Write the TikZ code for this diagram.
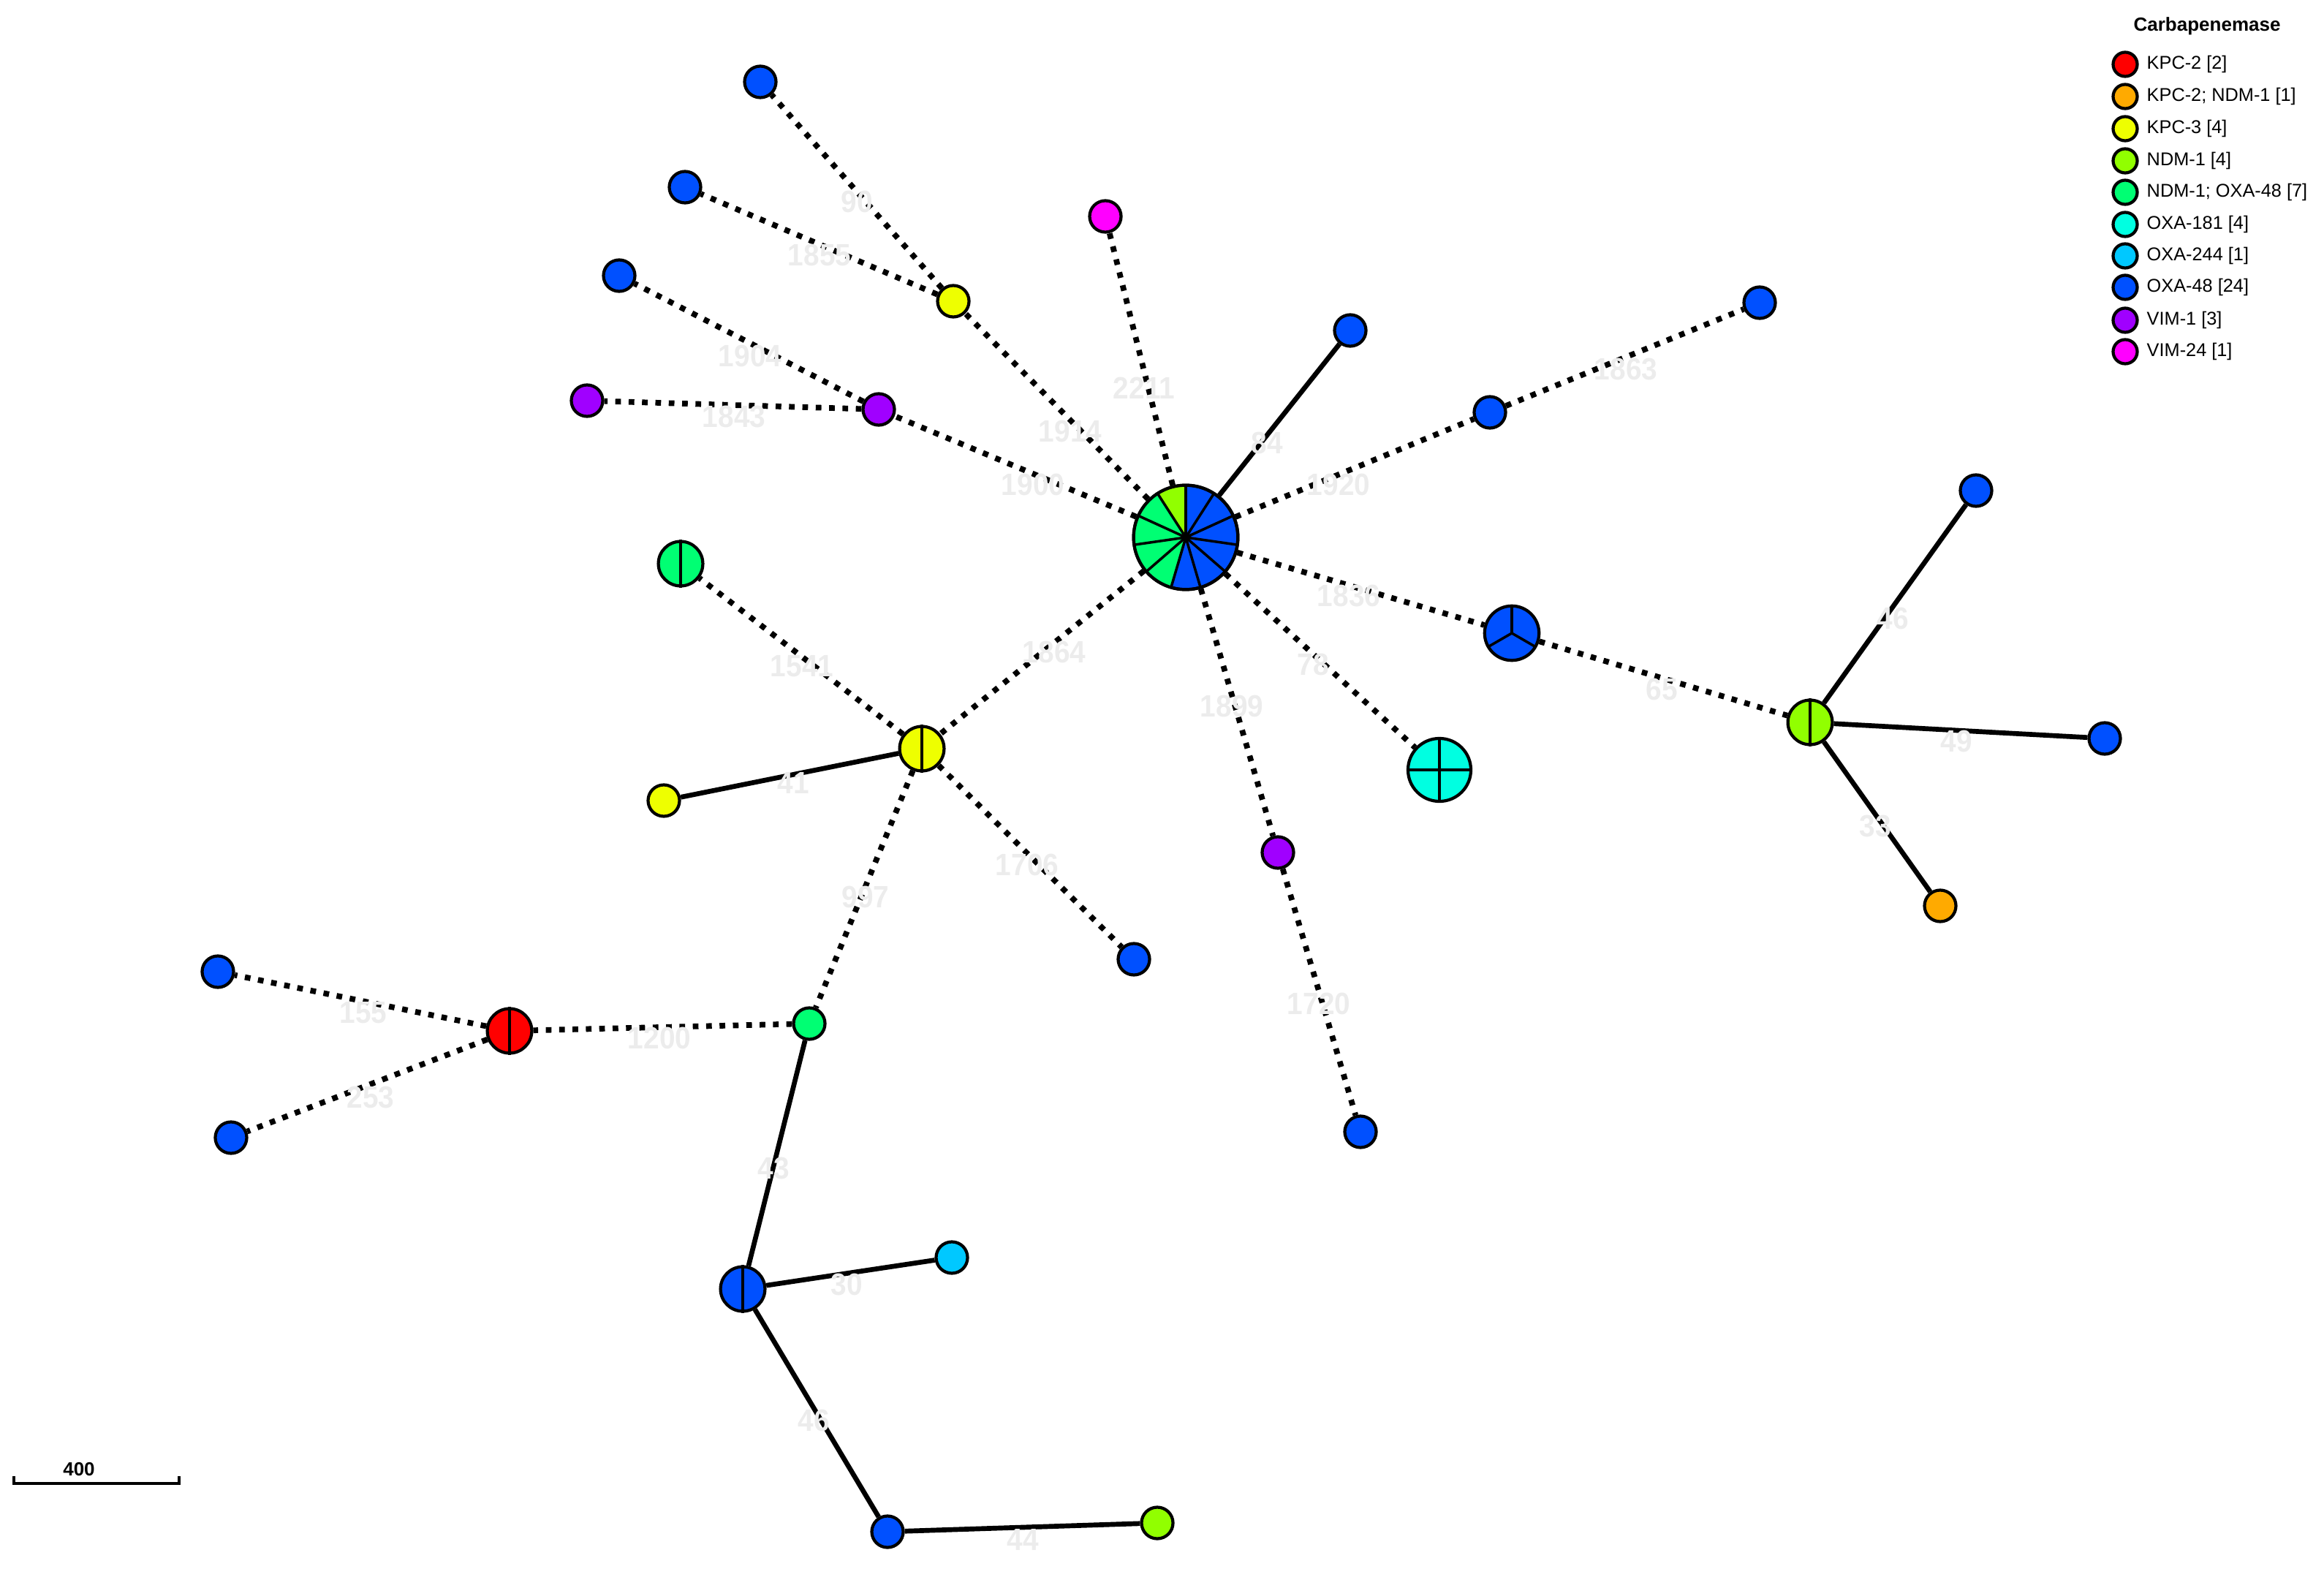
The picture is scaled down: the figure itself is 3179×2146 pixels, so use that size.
\documentclass[tikz,border=0pt]{standalone}
\usepackage{fontspec}
\setmainfont{Liberation Sans}
\newfontfamily\lblfont{Liberation Sans}[FakeStretch=0.92]
\pgfdeclarelayer{background}
\pgfsetlayers{background,main}
\definecolor{cKPCii}{RGB}{255,0,0}
\definecolor{cKPCNDM}{RGB}{255,170,0}
\definecolor{cKPCiii}{RGB}{238,255,0}
\definecolor{cNDM}{RGB}{145,255,0}
\definecolor{cNDMOXA}{RGB}{0,255,115}
\definecolor{cOXAclxxxi}{RGB}{0,255,225}
\definecolor{cOXAccxliv}{RGB}{0,200,255}
\definecolor{cOXAxlviii}{RGB}{0,80,255}
\definecolor{cVIMi}{RGB}{160,0,255}
\definecolor{cVIMxxiv}{RGB}{255,0,255}
\definecolor{lblgray}{RGB}{236,236,236}
\begin{document}
\begin{tikzpicture}[x=0.01cm,y=0.01cm,
 iso/.style={circle,draw=black,line width=1.2pt,inner sep=0pt,minimum size=0.43cm},
 isoii/.style={iso,minimum size=0.608cm},
 isoiii/.style={iso,minimum size=0.744cm},
 isoiv/.style={iso,minimum size=0.86cm},
 isoxi/.style={iso,minimum size=1.426cm},
 solidedge/.style={line width=1.9pt},
 dotedge/.style={line width=2.2pt,dash pattern=on 2.2pt off 3pt},
 elabel/.style={font=\lblfont\bfseries\fontsize{12}{12}\selectfont,text=lblgray,inner sep=0pt},
 divider/.style={line width=1pt},
 legdot/.style={circle,draw=black,line width=1.2pt,inner sep=0pt,minimum size=0.33cm},
 legtext/.style={anchor=west,font=\fontsize{7.2}{8}\selectfont,inner sep=0pt}]

\useasboundingbox (0,0) rectangle (3179,-2146);

% ---------- nodes ----------
\node[isoxi,fill=cOXAxlviii] (C) at (1622,-735) {};
\node[iso,fill=cOXAxlviii] (a84) at (1847,-452) {};
\node[iso,fill=cOXAxlviii] (a1920) at (2038,-564) {};
\node[iso,fill=cOXAxlviii] (a1863) at (2407,-414) {};
\node[isoiii,fill=cOXAxlviii] (p3) at (2068,-866) {};
\node[isoii,fill=cNDM] (p2L) at (2476,-988) {};
\node[iso,fill=cOXAxlviii] (bR1) at (2703,-671) {};
\node[iso,fill=cOXAxlviii] (bR2) at (2879,-1010) {};
\node[iso,fill=cKPCNDM] (oR) at (2654,-1239) {};
\node[isoiv,fill=cOXAclxxxi] (c4) at (1969,-1053) {};
\node[iso,fill=cVIMi] (vS) at (1748,-1166) {};
\node[iso,fill=cOXAxlviii] (b1720) at (1861,-1548) {};
\node[iso,fill=cVIMxxiv] (mg) at (1512,-296) {};
\node[iso,fill=cKPCiii] (yT) at (1304,-412) {};
\node[iso,fill=cOXAxlviii] (b90) at (1040,-112) {};
\node[iso,fill=cOXAxlviii] (b1855) at (937,-256) {};
\node[iso,fill=cVIMi] (vM) at (1202,-560) {};
\node[iso,fill=cOXAxlviii] (b1904) at (847,-377) {};
\node[iso,fill=cVIMi] (vL) at (803,-548) {};
\node[isoii,fill=cKPCiii] (y2) at (1261,-1024) {};
\node[isoii,fill=cNDMOXA] (g2) at (931,-771) {};
\node[iso,fill=cKPCiii] (yS) at (908,-1095) {};
\node[iso,fill=cOXAxlviii] (b1706) at (1551,-1312) {};
\node[iso,fill=cNDMOXA] (gS) at (1107,-1400) {};
\node[isoii,fill=cKPCii] (r2) at (697,-1410) {};
\node[iso,fill=cOXAxlviii] (b155) at (298,-1329) {};
\node[iso,fill=cOXAxlviii] (b253) at (316,-1556) {};
\node[isoii,fill=cOXAxlviii] (bb2) at (1016,-1763) {};
\node[iso,fill=cOXAccxliv] (ox244) at (1302,-1720) {};
\node[iso,fill=cOXAxlviii] (b599) at (1214,-2095) {};
\node[iso,fill=cNDM] (lS) at (1583,-2083) {};

% ---------- pie slices ----------
\foreach \i in {6,...,9}{
  \pgfmathsetmacro\a{90-\i*360/11}
  \pgfmathsetmacro\b{90-(\i+1)*360/11}
  \fill[cNDMOXA] (C.center) -- ++(\a:71.3) arc[start angle=\a,end angle=\b,radius=71.3] -- cycle;
}
\pgfmathsetmacro\a{90-10*360/11}
\fill[cNDM] (C.center) -- ++(\a:71.3) arc[start angle=\a,end angle=-270,radius=71.3] -- cycle;
\foreach \i in {0,...,10}{
  \pgfmathsetmacro\a{90-\i*360/11}
  \draw[divider] (C.center) -- ++(\a:71.3);
}
\draw[line width=1.2pt] (C.center) circle[radius=71.3];

\foreach \n in {y2,g2,r2,bb2,p2L}{ \draw[divider] (\n.north) -- (\n.south); }
\draw[divider] (p3.center) -- (p3.north);
\draw[divider] (p3.center) -- ++(210:37.2);
\draw[divider] (p3.center) -- ++(330:37.2);
\draw[divider] (c4.north) -- (c4.south);
\draw[divider] (c4.west) -- (c4.east);

% ---------- edges ----------
\begin{pgfonlayer}{background}
\draw[solidedge] (C) -- (a84);
\draw[dotedge] (C) -- (a1920);
\draw[dotedge] (a1920) -- (a1863);
\draw[dotedge] (C) -- (p3);
\draw[dotedge] (p3) -- (p2L);
\draw[solidedge] (p2L) -- (bR1);
\draw[solidedge] (p2L) -- (bR2);
\draw[solidedge] (p2L) -- (oR);
\draw[dotedge] (C) -- (c4);
\draw[dotedge] (C) -- (vS);
\draw[dotedge] (vS) -- (b1720);
\draw[dotedge] (C) -- (mg);
\draw[dotedge] (C) -- (yT);
\draw[dotedge] (yT) -- (b90);
\draw[dotedge] (yT) -- (b1855);
\draw[dotedge] (C) -- (vM);
\draw[dotedge] (vM) -- (b1904);
\draw[dotedge] (vM) -- (vL);
\draw[dotedge] (C) -- (y2);
\draw[dotedge] (y2) -- (g2);
\draw[solidedge] (y2) -- (yS);
\draw[dotedge] (y2) -- (b1706);
\draw[dotedge] (y2) -- (gS);
\draw[dotedge] (gS) -- (r2);
\draw[dotedge] (r2) -- (b155);
\draw[dotedge] (r2) -- (b253);
\draw[solidedge] (gS) -- (bb2);
\draw[solidedge] (bb2) -- (ox244);
\draw[solidedge] (bb2) -- (b599);
\draw[solidedge] (b599) -- (lS);
\end{pgfonlayer}

% ---------- edge labels ----------
\node[elabel] (l84) at (1733,-606) {84};
\node[elabel] (l1920) at (1831,-663) {1920};
\node[elabel] (l1863) at (2224,-505) {1863};
\node[elabel] (l1836) at (1845,-815) {1836};
\node[elabel] (l65) at (2273,-943) {65};
\node[elabel] (l46a) at (2589,-846) {46};
\node[elabel] (l49) at (2676,-1014) {49};
\node[elabel] (l33) at (2565,-1130) {33};
\node[elabel] (l78) at (1796,-909) {78};
\node[elabel] (l1899) at (1685,-966) {1899};
\node[elabel] (l1720) at (1804,-1373) {1720};
\node[elabel] (l2211) at (1565,-531) {2211};
\node[elabel] (l1914) at (1464,-590) {1914};
\node[elabel] (l90) at (1172,-276) {90};
\node[elabel] (l1855) at (1121,-349) {1855};
\node[elabel] (l1900) at (1413,-663) {1900};
\node[elabel] (l1904) at (1026,-487) {1904};
\node[elabel] (l1843) at (1004,-570) {1843};
\node[elabel] (l1864) at (1442,-892) {1864};
\node[elabel] (l1541) at (1097,-911) {1541};
\node[elabel] (l41) at (1085,-1071) {41};
\node[elabel] (l1706) at (1405,-1183) {1706};
\node[elabel] (l997) at (1184,-1227) {997};
\node[elabel] (l1200) at (902,-1420) {1200};
\node[elabel] (l155) at (497,-1385) {155};
\node[elabel] (l253) at (507,-1501) {253};
\node[elabel] (l43) at (1058,-1598) {43};
\node[elabel] (l30) at (1158,-1757) {30};
\node[elabel] (l46b) at (1113,-1943) {46};
\node[elabel] (l44) at (1399,-2106) {44};

% ---------- scale bar ----------
\coordinate (sbL) at (19,-2029);
\coordinate (sbR) at (245,-2029);
\draw[line width=1.2pt] ([yshift=0.1cm]sbL) -- (sbL) -- (sbR) -- ([yshift=0.1cm]sbR);
\node[font=\bfseries\fontsize{7.4}{8}\selectfont,inner sep=0pt] (sbtext) at (108,-2010) {400};

% ---------- legend ----------
\node[font=\bfseries\fontsize{7.4}{8}\selectfont,inner sep=0pt] (legtitle) at (3019,-36) {Carbapenemase};
\node[legdot,fill=cKPCii] (ld1) at (2907,-88) {};
\node[legtext] (lt1) at (2936,-88) {KPC-2 [2]};
\node[legdot,fill=cKPCNDM] (ld2) at (2907,-132) {};
\node[legtext] (lt2) at (2936,-132) {KPC-2; NDM-1 [1]};
\node[legdot,fill=cKPCiii] (ld3) at (2907,-176) {};
\node[legtext] (lt3) at (2936,-176) {KPC-3 [4]};
\node[legdot,fill=cNDM] (ld4) at (2907,-220) {};
\node[legtext] (lt4) at (2936,-220) {NDM-1 [4]};
\node[legdot,fill=cNDMOXA] (ld5) at (2907,-263) {};
\node[legtext] (lt5) at (2936,-263) {NDM-1; OXA-48 [7]};
\node[legdot,fill=cOXAclxxxi] (ld6) at (2907,-307) {};
\node[legtext] (lt6) at (2936,-307) {OXA-181 [4]};
\node[legdot,fill=cOXAccxliv] (ld7) at (2907,-350) {};
\node[legtext] (lt7) at (2936,-350) {OXA-244 [1]};
\node[legdot,fill=cOXAxlviii] (ld8) at (2907,-393) {};
\node[legtext] (lt8) at (2936,-393) {OXA-48 [24]};
\node[legdot,fill=cVIMi] (ld9) at (2907,-438) {};
\node[legtext] (lt9) at (2936,-438) {VIM-1 [3]};
\node[legdot,fill=cVIMxxiv] (ld10) at (2907,-481) {};
\node[legtext] (lt10) at (2936,-481) {VIM-24 [1]};
\end{tikzpicture}
\end{document}
